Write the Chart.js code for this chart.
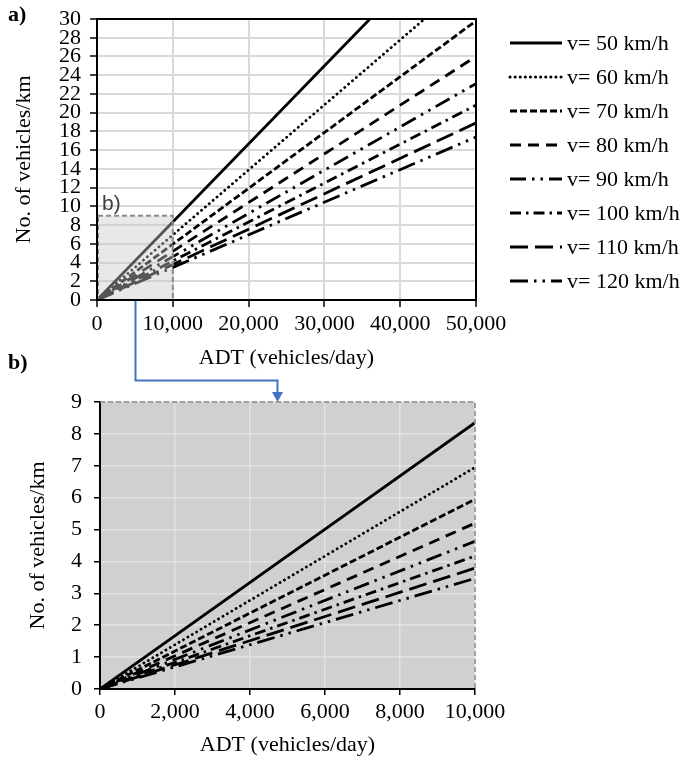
<!DOCTYPE html>
<html>
<head>
<meta charset="utf-8">
<script src="https://cdn.jsdelivr.net/npm/chart.js@4.4.1/dist/chart.umd.min.js"></script>
<style>
  html, body { margin: 0; padding: 0; background: #fff; }
  #wrap { position: relative; width: 687px; height: 762px; overflow: hidden; }
  canvas { position: absolute; left: 0; }
  #cA { top: 0; }
  #cB { top: 370px; }
  .plab { position: absolute; font-family: "Liberation Serif", "Times New Roman", serif; font-weight: bold; font-size: 22px; line-height: 22px; color: #000; }
</style>
</head>
<body>
<div id="wrap">
  <canvas id="cA" width="687" height="370"></canvas>
  <canvas id="cB" width="687" height="392"></canvas>
  <div class="plab" style="left:8px; top:3px;">a)</div>
  <div class="plab" style="left:8px; top:351px;">b)</div>
</div>
<script>
// ---------- data ----------
const seriesLabels = ['v= 50 km/h', 'v= 60 km/h', 'v= 70 km/h', 'v= 80 km/h',
                      'v= 90 km/h', 'v= 100 km/h', 'v= 110 km/h', 'v= 120 km/h'];
// panel a): each line starts at origin; end points where line leaves the plot
const endXA = [36000, 43200, 50000, 50000, 50000, 50000, 50000, 50000];
const endYA = [30, 30, 29.8, 26.0, 23.1, 20.8, 18.9, 17.4];
// panel b): values at ADT = 10,000
const endXB = [10000, 10000, 10000, 10000, 10000, 10000, 10000, 10000];
const endYB = [8.35, 6.95, 5.95, 5.2, 4.63, 4.17, 3.79, 3.47];
const xTicksA = ['0', '10,000', '20,000', '30,000', '40,000', '50,000'];
const xTicksB = ['0', '2,000', '4,000', '6,000', '8,000', '10,000'];
const yTicksA = ['0','2','4','6','8','10','12','14','16','18','20','22','24','26','28','30'];
const yTicksB = ['0','1','2','3','4','5','6','7','8','9'];
const zoomBox = { x0: 0, x1: 10000, y0: 0, y1: 9 };

// ---------- styles ----------
const dashes = [
  [],
  [0.1, 5],
  [7, 3],
  [11, 7],
  [16, 6, 2.5, 6, 2.5, 6],
  [11, 5, 2.5, 5],
  [18, 7],
  [18, 6, 2.5, 6, 2.5, 6]
];
const caps = ['butt', 'round', 'butt', 'butt', 'butt', 'butt', 'butt', 'butt'];
const SERIF = '"Liberation Serif", "Times New Roman", serif';

function makeDatasets(endX, endY) {
  return seriesLabels.map((lab, i) => ({
    label: lab,
    data: [{ x: 0, y: 0 }, { x: endX[i], y: endY[i] }],
    borderColor: '#000',
    borderWidth: 2.8,
    borderDash: dashes[i],
    borderCapStyle: caps[i],
    pointRadius: 0,
    tension: 0,
    fill: false
  }));
}

let chartA = null;

// ---------- plugins ----------
const overlayA = {
  id: 'overlayA',
  afterDatasetsDraw(chart) {
    const { ctx, scales: { x, y } } = chart;
    const l = x.getPixelForValue(zoomBox.x0), r = x.getPixelForValue(zoomBox.x1);
    const t = y.getPixelForValue(zoomBox.y1), b = y.getPixelForValue(zoomBox.y0);
    ctx.save();
    ctx.fillStyle = 'rgba(200,200,200,0.42)';
    ctx.fillRect(l, t, r - l, b - t);
    ctx.strokeStyle = '#8a8a8a';
    ctx.lineWidth = 2;
    ctx.setLineDash([5, 3]);
    ctx.strokeRect(l + 1, t, r - l - 1, b - t);
    ctx.setLineDash([]);
    ctx.fillStyle = '#404040';
    ctx.font = '21px "Liberation Sans", Arial, sans-serif';
    ctx.textBaseline = 'bottom';
    ctx.textAlign = 'left';
    ctx.fillText('b)', l + 5, t - 1);
    ctx.restore();
  },
  afterDraw(chart) {
    const { ctx, scales: { x }, chartArea: ca } = chart;
    ctx.save();
    // frame
    ctx.strokeStyle = '#000';
    ctx.lineWidth = 2;
    ctx.strokeRect(ca.left, ca.top, ca.right - ca.left, ca.bottom - ca.top);
    // connector start
    const cx = Math.round(x.getPixelForValue(5000)) + 0.5;
    ctx.strokeStyle = '#4472c4';
    ctx.lineWidth = 2;
    ctx.beginPath();
    ctx.moveTo(cx, ca.bottom + 1);
    ctx.lineTo(cx, chart.height);
    ctx.stroke();
    // legend
    ctx.font = '22px ' + SERIF;
    ctx.textBaseline = 'middle';
    ctx.textAlign = 'left';
    chart.data.datasets.forEach((ds, i) => {
      const yy = 43 + i * 34;
      ctx.strokeStyle = '#000';
      ctx.lineWidth = 3;
      ctx.lineCap = ds.borderCapStyle;
      ctx.setLineDash(ds.borderDash);
      ctx.beginPath();
      ctx.moveTo(510, yy);
      ctx.lineTo(562, yy);
      ctx.stroke();
      ctx.setLineDash([]);
      ctx.fillStyle = '#000';
      ctx.fillText(ds.label, 567, yy + 1);
    });
    ctx.restore();
  }
};

const bgB = {
  id: 'bgB',
  beforeDraw(chart) {
    const { ctx, chartArea: ca } = chart;
    ctx.save();
    ctx.fillStyle = '#d0d0d0';
    ctx.fillRect(ca.left, ca.top, ca.right - ca.left, ca.bottom - ca.top);
    ctx.restore();
  },
  afterDraw(chart) {
    const { ctx, scales: { x }, chartArea: ca } = chart;
    ctx.save();
    ctx.strokeStyle = '#8a8a8a';
    ctx.lineWidth = 1.5;
    ctx.setLineDash([5, 3]);
    ctx.beginPath();
    ctx.moveTo(ca.left, ca.top);
    ctx.lineTo(ca.right, ca.top);
    ctx.lineTo(ca.right, ca.bottom);
    ctx.stroke();
    ctx.setLineDash([]);
    // connector
    const sx = chartA ? Math.round(chartA.scales.x.getPixelForValue(5000)) + 0.5 : 135;
    const ex = Math.round(x.getPixelForValue(4720)) + 0.5;
    const hy = 10.5;
    ctx.strokeStyle = '#4472c4';
    ctx.fillStyle = '#4472c4';
    ctx.lineWidth = 2;
    ctx.beginPath();
    ctx.moveTo(sx, 0);
    ctx.lineTo(sx, hy);
    ctx.lineTo(ex, hy);
    ctx.lineTo(ex, ca.top - 9);
    ctx.stroke();
    ctx.beginPath();
    ctx.moveTo(ex - 5.5, ca.top - 10);
    ctx.lineTo(ex + 5.5, ca.top - 10);
    ctx.lineTo(ex, ca.top);
    ctx.closePath();
    ctx.fill();
    ctx.restore();
  }
};

function axisCommon() {
  return {
    type: 'linear',
    border: { color: '#000', width: 2 },
  };
}

// ---------- chart a) ----------
chartA = new Chart(document.getElementById('cA'), {
  type: 'line',
  data: { datasets: makeDatasets(endXA, endYA) },
  options: {
    responsive: false,
    animation: false,
    devicePixelRatio: 1,
    layout: { padding: { top: 19, right: 211, left: 0, bottom: 0 } },
    plugins: { legend: { display: false }, tooltip: { enabled: false } },
    scales: {
      x: Object.assign(axisCommon(), {
        min: 0, max: 50000,
        afterBuildTicks(s) { s.ticks = xTicksA.map((t, i) => ({ value: i * 10000 })); },
        afterFit(s) { s.height = 70; },
        grid: { color: '#d9d9d9', lineWidth: 2, tickColor: '#000', tickLength: 7, tickWidth: 1.5 },
        ticks: { color: '#000', font: { family: SERIF, size: 22 }, padding: 4, maxRotation: 0,
                 autoSkip: false, callback: (v, i) => xTicksA[i] },
        title: { display: true, text: 'ADT (vehicles/day)', color: '#000',
                 font: { family: SERIF, size: 22, lineHeight: 1 }, padding: { top: 0, bottom: 1 } }
      }),
      y: Object.assign(axisCommon(), {
        min: 0, max: 30,
        afterBuildTicks(s) { s.ticks = yTicksA.map((t, i) => ({ value: i * 2 })); },
        afterFit(s) { s.width = 97; },
        grid: { color: '#d9d9d9', lineWidth: 2, tickColor: '#000', tickLength: 7, tickWidth: 1.5 },
        ticks: { color: '#000', font: { family: SERIF, size: 22, lineHeight: 0.85 }, padding: 9,
                 autoSkip: false, callback: (v, i) => yTicksA[i] },
        title: { display: true, text: 'No. of vehicles/km', color: '#000',
                 font: { family: SERIF, size: 22, lineHeight: 1 }, padding: { top: 13, bottom: 0 } }
      })
    }
  },
  plugins: [overlayA]
});

// ---------- chart b) ----------
new Chart(document.getElementById('cB'), {
  type: 'line',
  data: { datasets: makeDatasets(endXB, endYB) },
  options: {
    responsive: false,
    animation: false,
    devicePixelRatio: 1,
    layout: { padding: { top: 32, right: 212, left: 0, bottom: 0 } },
    plugins: { legend: { display: false }, tooltip: { enabled: false } },
    scales: {
      x: Object.assign(axisCommon(), {
        min: 0, max: 10000,
        afterBuildTicks(s) { s.ticks = xTicksB.map((t, i) => ({ value: i * 2000 })); },
        afterFit(s) { s.height = 73; },
        grid: { color: '#e2e2e2', lineWidth: 1.5, tickColor: '#000', tickLength: 6, tickWidth: 1.5 },
        ticks: { color: '#000', font: { family: SERIF, size: 22 }, padding: 4, maxRotation: 0,
                 autoSkip: false, callback: (v, i) => xTicksB[i] },
        title: { display: true, text: 'ADT (vehicles/day)', color: '#000',
                 font: { family: SERIF, size: 22, lineHeight: 1 }, padding: { top: 0, bottom: 6 } }
      }),
      y: Object.assign(axisCommon(), {
        min: 0, max: 9,
        afterBuildTicks(s) { s.ticks = yTicksB.map((t, i) => ({ value: i })); },
        afterFit(s) { s.width = 100; },
        grid: { color: '#e2e2e2', lineWidth: 1.5, tickColor: '#000', tickLength: 6, tickWidth: 1.5 },
        ticks: { color: '#000', font: { family: SERIF, size: 22 }, padding: 12,
                 autoSkip: false, callback: (v, i) => yTicksB[i] },
        title: { display: true, text: 'No. of vehicles/km', color: '#000',
                 font: { family: SERIF, size: 22, lineHeight: 1 }, padding: { top: 27, bottom: 0 } }
      })
    }
  },
  plugins: [bgB]
});
</script>
</body>
</html>
